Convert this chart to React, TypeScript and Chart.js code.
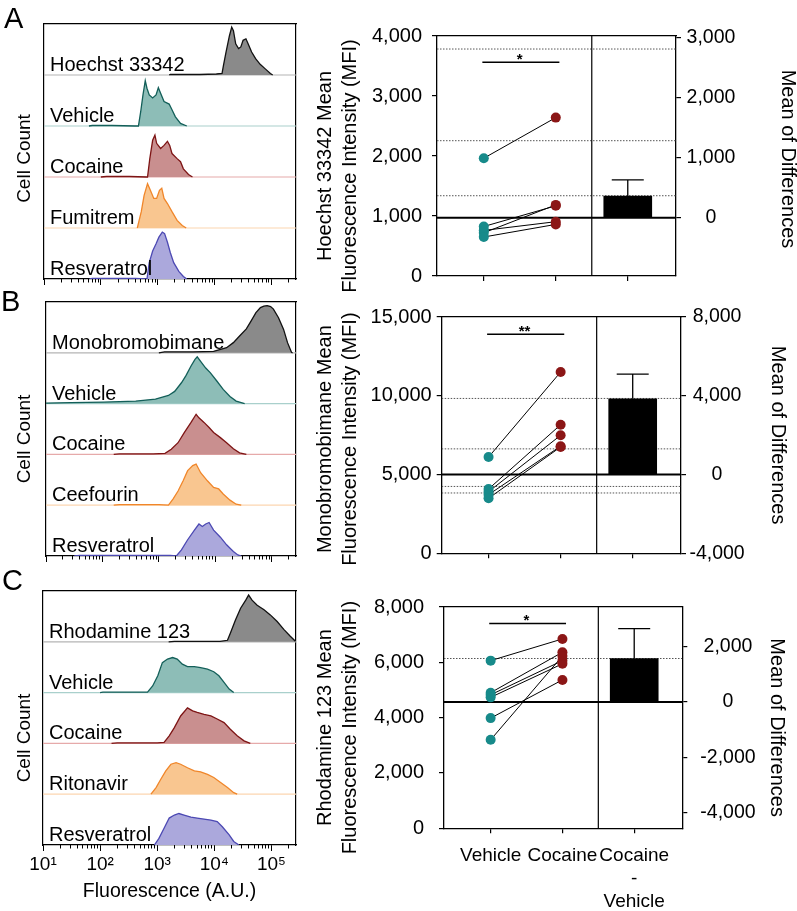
import React, { useEffect, useRef } from 'react';
import { Chart, registerables } from 'chart.js';

Chart.register(...registerables);

const FONT = '"Liberation Sans", Arial, Helvetica, sans-serif';
Chart.defaults.font.family = FONT;
Chart.defaults.color = '#000';

type Pt = [number, number];

// ---------------- Histogram panels (x = log10 fluorescence, y = normalised count) ----------------
const histXMin = 1.0;
const histXMax = 5.43;
const histDecades = [1, 2, 3, 4, 5];
const minorMultipliers = [2, 3, 4, 5, 6, 7, 8, 9];
const histXTitle = 'Fluorescence (A.U.)';
const histYTitle = 'Cell Count';

const histLabelsA = ['Hoechst 33342', 'Vehicle', 'Cocaine', 'Fumitrem', 'Resveratrol'];
const histLabelsB = ['Monobromobimane', 'Vehicle', 'Cocaine', 'Ceefourin', 'Resveratrol'];
const histLabelsC = ['Rhodamine 123', 'Vehicle', 'Cocaine', 'Ritonavir', 'Resveratrol'];

const histA_Hoechst: Pt[] = [[3.2, 0], [3.22, 0.01], [3.74, 0.01], [4.03, 0.02], [4.13, 0.03], [4.155, 0.19], [4.2, 0.45], [4.26, 0.77], [4.3, 0.94], [4.33, 0.87], [4.37, 0.61], [4.42, 0.52], [4.46, 0.55], [4.5, 0.68], [4.55, 0.71], [4.59, 0.61], [4.65, 0.45], [4.72, 0.32], [4.8, 0.21], [4.89, 0.12], [4.98, 0.03], [5.02, 0]];
const histA_Vehicle: Pt[] = [[1.79, 0], [1.85, 0.01], [2.19, 0.01], [2.6, 0], [2.66, 0], [2.7, 0.28], [2.74, 0.61], [2.78, 0.89], [2.81, 0.74], [2.85, 0.61], [2.91, 0.55], [2.97, 0.61], [3.01, 0.75], [3.05, 0.64], [3.11, 0.48], [3.2, 0.43], [3.25, 0.32], [3.31, 0.18], [3.4, 0.05], [3.51, 0]];
const histA_Cocaine: Pt[] = [[2.0, 0], [2.1, 0.01], [2.5, 0.01], [2.8, 0], [2.82, 0], [2.86, 0.36], [2.91, 0.72], [2.95, 0.82], [2.98, 0.66], [3.05, 0.56], [3.11, 0.62], [3.17, 0.7], [3.21, 0.62], [3.25, 0.46], [3.34, 0.36], [3.4, 0.3], [3.45, 0.16], [3.54, 0.05], [3.61, 0]];
const histA_Fumitrem: Pt[] = [[2.64, 0], [2.71, 0.32], [2.76, 0.64], [2.82, 0.87], [2.87, 0.74], [2.93, 0.58], [2.98, 0.58], [3.03, 0.74], [3.07, 0.78], [3.11, 0.58], [3.17, 0.48], [3.25, 0.32], [3.34, 0.15], [3.43, 0.05], [3.5, 0]];
const histA_Resveratrol: Pt[] = [[1.8, 0], [1.85, 0.01], [2.6, 0.01], [2.81, 0], [2.85, 0.32], [2.91, 0.55], [2.97, 0.69], [3.02, 0.82], [3.08, 0.92], [3.12, 0.89], [3.17, 0.72], [3.22, 0.52], [3.28, 0.32], [3.37, 0.15], [3.45, 0.05], [3.51, 0]];

const histB_Mbb: Pt[] = [[3.0, 0], [3.1, 0.02], [3.6, 0.02], [3.97, 0.03], [4.2, 0.1], [4.32, 0.2], [4.43, 0.33], [4.55, 0.47], [4.63, 0.62], [4.72, 0.79], [4.8, 0.89], [4.86, 0.92], [4.92, 0.93], [4.98, 0.91], [5.03, 0.86], [5.12, 0.69], [5.21, 0.46], [5.28, 0.2], [5.35, 0.01], [5.37, 0]];
const histB_Vehicle: Pt[] = [[1.0, 0.01], [1.44, 0.02], [2.02, 0.03], [2.59, 0.05], [2.94, 0.09], [3.17, 0.16], [3.28, 0.24], [3.4, 0.41], [3.48, 0.55], [3.57, 0.74], [3.64, 0.87], [3.68, 0.92], [3.74, 0.83], [3.83, 0.7], [3.91, 0.61], [4.03, 0.44], [4.14, 0.28], [4.26, 0.14], [4.37, 0.05], [4.52, 0]];
const histB_Cocaine: Pt[] = [[2.2, 0], [2.3, 0.01], [2.9, 0.01], [3.11, 0.02], [3.22, 0.1], [3.34, 0.23], [3.45, 0.43], [3.57, 0.63], [3.66, 0.79], [3.71, 0.72], [3.8, 0.63], [3.89, 0.53], [3.97, 0.43], [4.09, 0.33], [4.2, 0.23], [4.32, 0.11], [4.43, 0.03], [4.55, 0]];
const histB_Ceefourin: Pt[] = [[2.2, 0], [2.3, 0.01], [3.0, 0.01], [3.17, 0], [3.25, 0.12], [3.34, 0.28], [3.43, 0.48], [3.51, 0.68], [3.6, 0.78], [3.66, 0.81], [3.74, 0.64], [3.86, 0.48], [3.97, 0.35], [4.06, 0.32], [4.14, 0.22], [4.26, 0.1], [4.37, 0.02], [4.46, 0]];
const histB_Resveratrol: Pt[] = [[1.5, 0], [1.6, 0.01], [3.2, 0.01], [3.31, 0], [3.4, 0.12], [3.51, 0.32], [3.63, 0.51], [3.71, 0.63], [3.77, 0.58], [3.83, 0.63], [3.89, 0.66], [3.97, 0.51], [4.09, 0.37], [4.2, 0.22], [4.32, 0.09], [4.4, 0.02], [4.46, 0]];

const histC_Rho: Pt[] = [[3.2, 0], [3.3, 0.01], [4.1, 0.01], [4.23, 0.03], [4.28, 0.17], [4.37, 0.43], [4.46, 0.66], [4.55, 0.82], [4.6, 0.92], [4.66, 0.82], [4.75, 0.72], [4.87, 0.63], [4.98, 0.53], [5.1, 0.4], [5.22, 0.24], [5.33, 0.11], [5.42, 0.01]];
const histC_Vehicle: Pt[] = [[2.0, 0], [2.05, 0.01], [2.75, 0.01], [2.83, 0.01], [2.92, 0.13], [3.01, 0.33], [3.09, 0.59], [3.18, 0.66], [3.27, 0.69], [3.35, 0.66], [3.44, 0.56], [3.53, 0.51], [3.65, 0.51], [3.76, 0.49], [3.88, 0.46], [3.99, 0.41], [4.08, 0.33], [4.17, 0.2], [4.26, 0.07], [4.34, 0]];
const histC_Cocaine: Pt[] = [[2.2, 0], [2.3, 0.01], [3.0, 0.01], [3.12, 0.02], [3.21, 0.15], [3.3, 0.31], [3.41, 0.54], [3.53, 0.7], [3.62, 0.64], [3.7, 0.61], [3.82, 0.57], [3.94, 0.54], [4.05, 0.48], [4.17, 0.41], [4.28, 0.28], [4.4, 0.15], [4.52, 0.05], [4.63, 0]];
const histC_Ritonavir: Pt[] = [[2.89, 0], [2.98, 0.13], [3.06, 0.29], [3.15, 0.46], [3.24, 0.59], [3.33, 0.62], [3.41, 0.59], [3.53, 0.52], [3.65, 0.46], [3.76, 0.44], [3.88, 0.39], [3.99, 0.33], [4.11, 0.23], [4.23, 0.13], [4.34, 0.03], [4.4, 0]];
const histC_Resveratrol: Pt[] = [[2.95, 0], [3.03, 0.13], [3.12, 0.33], [3.21, 0.53], [3.3, 0.59], [3.38, 0.62], [3.47, 0.59], [3.59, 0.55], [3.7, 0.53], [3.82, 0.51], [3.94, 0.49], [4.05, 0.46], [4.14, 0.36], [4.26, 0.2], [4.34, 0.07], [4.43, 0]];

const histFills = ['#8a8a8a', '#8dbdb7', '#c98f8f', '#f9c690', '#aba8dc'];
const histStrokes = ['#111111', '#135f59', '#7d1414', '#f0862a', '#4c49b3'];
const histBaseColors = ['#b4b4b4', '#a9d0cc', '#e6aaaa', '#fcd6b0', '#c7c5ea'];

// ---------------- Paired MFI panels ----------------
const groupPositions = [1, 2, 3];
const groupLabels: (string | string[])[] = ['Vehicle', 'Cocaine', ['Cocaine', '-', 'Vehicle']];
const rightTitle = 'Mean of Differences';

const titleA = ['Hoechst 33342 Mean', 'Fluorescence Intensity (MFI)'];
const vehicleA = [1963, 825, 720, 760, 650];
const cocaineA = [2640, 1170, 1185, 905, 860];
const dottedA = [3783, 2255, 1338];
const leftTicksA = [0, 1000, 2000, 3000, 4000];
const rightTicksA = [0, 1000, 2000, 3000];
const meanDiffA = 360;
const errTopA = 630;
const sigA = 3562;

const titleB = ['Monobromobimane Mean', 'Fluorescence Intensity (MFI)'];
const vehicleB = [6108, 4080, 3911, 3723, 3490];
const cocaineB = [11507, 8161, 7489, 6800, 6750];
const dottedB = [9830, 6629, 4244, 3829];
const leftTicksB = [0, 5000, 10000, 15000];
const rightTicksB = [-4000, 0, 4000, 8000];
const meanDiffB = 3845;
const errTopB = 5100;
const sigB = 13911;

const titleC = ['Rhodamine 123 Mean', 'Fluorescence Intensity (MFI)'];
const vehicleC = [6061, 4902, 4825, 4734, 3983, 3199];
const cocaineC = [6845, 6364, 6061, 5946, 5364, 6229];
const dottedC = [6138];
const leftTicksC = [0, 2000, 4000, 6000, 8000];
const rightTicksC = [-4000, -2000, 0, 2000];
const meanDiffC = 1570;
const errTopC = 2650;
const sigC = 7407;

const VEH_COLOR = '#178a8a';
const COC_COLOR = '#8b1616';

const SUP: Record<number, string> = { 1: '\u00B9', 2: '\u00B2', 3: '\u00B3', 4: '\u2074', 5: '\u2075' };

const fixW = (w: number) => (s: any) => { s.width = w; };
const fixH = (h: number) => (s: any) => { s.height = h; };

// Draws a rotated axis title centred at canvas x, shifted dy px from the plot's vertical middle.
function drawRotatedTitle(chart: any, lines: string[], x: number, dy: number, rot: number, size: number, lineH: number) {
  const { ctx, chartArea } = chart;
  const cy = (chartArea.top + chartArea.bottom) / 2 + dy;
  ctx.save();
  ctx.translate(x, cy);
  ctx.rotate(rot);
  ctx.font = `${size}px ${FONT}`;
  ctx.fillStyle = '#000';
  ctx.textAlign = 'center';
  ctx.textBaseline = 'middle';
  lines.forEach((t, i) => ctx.fillText(t, 0, i * lineH));
  ctx.restore();
}

interface HistSpec {
  top: number; height: number; boxLeft: number; boxTop: number; boxBottom: number;
  curves: Pt[][]; labels: string[]; showTickLabels: boolean; titleDy: number;
}

const histSpecs: HistSpec[] = [
  { top: 0, height: 290, boxLeft: 44, boxTop: 24, boxBottom: 279, curves: [histA_Hoechst, histA_Vehicle, histA_Cocaine, histA_Fumitrem, histA_Resveratrol], labels: histLabelsA, showTickLabels: false, titleDy: 7 },
  { top: 290, height: 280, boxLeft: 46, boxTop: 302, boxBottom: 556, curves: [histB_Mbb, histB_Vehicle, histB_Cocaine, histB_Ceefourin, histB_Resveratrol], labels: histLabelsB, showTickLabels: false, titleDy: 10 },
  { top: 580, height: 331, boxLeft: 43, boxTop: 591, boxBottom: 845, curves: [histC_Rho, histC_Vehicle, histC_Cocaine, histC_Ritonavir, histC_Resveratrol], labels: histLabelsC, showTickLabels: true, titleDy: 20 },
];

function buildHist(s: HistSpec): any {
  const n = s.curves.length;
  const datasets: any[] = [];
  s.curves.forEach((curve, i) => {
    const base = n - 1 - i;
    datasets.push({
      data: curve.map(([x, y]) => ({ x, y: base + y })),
      xAxisID: 'x', yAxisID: 'y',
      borderColor: histStrokes[i], backgroundColor: histFills[i], borderWidth: 1.3,
      fill: { value: base }, pointRadius: 0, tension: 0, order: 1,
    });
    if (base > 0) {
      datasets.push({
        data: [{ x: histXMin, y: base }, { x: histXMax, y: base }],
        xAxisID: 'x', yAxisID: 'y',
        borderColor: histBaseColors[i], borderWidth: 1.2, pointRadius: 0, fill: false, order: 2,
      });
    }
  });
  const labelPlugin = {
    id: 'rowLabels',
    afterDatasetsDraw(chart: any) {
      const { ctx, chartArea, scales } = chart;
      ctx.save();
      ctx.font = `20px ${FONT}`;
      ctx.fillStyle = '#000';
      ctx.textAlign = 'left';
      ctx.textBaseline = 'alphabetic';
      s.labels.forEach((t, i) => {
        const base = n - 1 - i;
        ctx.fillText(t, chartArea.left + 6, scales.y.getPixelForValue(base) - 4);
      });
      ctx.restore();
      drawRotatedTitle(chart, [histYTitle], 25, s.titleDy, -Math.PI / 2, 19, 23);
    },
  };
  const frame = { display: true, color: '#000', width: 1.2 };
  return {
    type: 'line',
    data: { datasets },
    options: {
      responsive: false, animation: false, events: [],
      layout: { padding: { top: s.boxTop - s.top, right: 4, left: 0, bottom: 0 } },
      plugins: { legend: { display: false }, tooltip: { enabled: false } },
      scales: {
        x: {
          type: 'linear', position: 'bottom', min: histXMin, max: histXMax, weight: 1,
          afterBuildTicks: (sc: any) => { sc.ticks = histDecades.map((value) => ({ value })); },
          afterFit: fixH(s.height - (s.boxBottom - s.top)),
          grid: { display: true, drawOnChartArea: false, drawTicks: true, tickLength: 6, color: '#000', lineWidth: 1 },
          border: frame,
          ticks: {
            display: s.showTickLabels, padding: 2.6, maxRotation: 0, autoSkip: false,
            font: { size: 19 }, color: '#000',
            callback: (v: any) => '10' + (SUP[Math.round(v)] || ''),
          },
          title: { display: s.showTickLabels, text: histXTitle, font: { size: 19.5 }, color: '#000', padding: { bottom: 7.3, top: 0 } },
        },
        xm: {
          type: 'linear', position: 'bottom', min: histXMin, max: histXMax, weight: 0,
          afterBuildTicks: (sc: any) => {
            const t: any[] = [];
            histDecades.forEach((d) => minorMultipliers.forEach((k) => {
              const v = d + Math.log10(k);
              if (v <= histXMax) t.push({ value: v });
            }));
            sc.ticks = t;
          },
          afterFit: fixH(0),
          grid: { display: true, drawOnChartArea: false, drawTicks: true, tickLength: 3.5, color: '#000', lineWidth: 1 },
          border: { display: false },
          ticks: { display: false },
        },
        xt: {
          type: 'linear', position: 'top', min: 0, max: 1, afterFit: fixH(0),
          grid: { display: false }, ticks: { display: false }, border: frame,
        },
        y: {
          type: 'linear', position: 'left', min: 0, max: n, afterFit: fixW(s.boxLeft),
          grid: { display: false }, ticks: { display: false }, border: frame,
        },
        yr: {
          type: 'linear', position: 'right', min: 0, max: 1, afterFit: fixW(0),
          grid: { display: false }, ticks: { display: false }, border: frame,
        },
      },
    },
    plugins: [labelPlugin],
  };
}

interface PairSpec {
  top: number; height: number; plotLeft: number; plotRight: number; plotTop: number; plotBottom: number;
  leftMin: number; leftMax: number; rightMin: number; rightMax: number;
  leftTicks: number[]; rightTicks: number[];
  vehicle: number[]; cocaine: number[]; dotted: number[];
  meanDiff: number; errTop: number; sig: number; stars: string; title: string[];
  leftPad: number; rightPad: number; rightTitleX: number; leftTitleDy: number; rightTitleDy: number; showX: boolean;
}

const pairSpecs: PairSpec[] = [
  { top: 0, height: 300, plotLeft: 437, plotRight: 676, plotTop: 36, plotBottom: 276, leftMin: 0, leftMax: 4000, rightMin: -972, rightMax: 3028, leftTicks: leftTicksA, rightTicks: rightTicksA, vehicle: vehicleA, cocaine: cocaineA, dotted: dottedA, meanDiff: meanDiffA, errTop: errTopA, sig: sigA, stars: '*', title: titleA, leftPad: 10, rightPad: 5.6, rightTitleX: 488, leftTitleDy: 10, rightTitleDy: 3, showX: false },
  { top: 300, height: 280, plotLeft: 441.7, plotRight: 681, plotTop: 314.3, plotBottom: 553.3, leftMin: 0, leftMax: 15000, rightMin: -4000, rightMax: 8000, leftTicks: leftTicksB, rightTicks: rightTicksB, vehicle: vehicleB, cocaine: cocaineB, dotted: dottedB, meanDiff: meanDiffB, errTop: errTopB, sig: sigB, stars: '**', title: titleB, leftPad: 5, rightPad: 3.4, rightTitleX: 477.5, leftTitleDy: 4, rightTitleDy: 0, showX: false },
  { top: 580, height: 331, plotLeft: 444, plotRight: 682.3, plotTop: 591, plotBottom: 828.3, leftMin: 0, leftMax: 8000, rightMin: -4566, rightMax: 3434, leftTicks: leftTicksC, rightTicks: rightTicksC, vehicle: vehicleC, cocaine: cocaineC, dotted: dottedC, meanDiff: meanDiffC, errTop: errTopC, sig: sigC, stars: '*', title: titleC, leftPad: 15, rightPad: 13, rightTitleX: 477, leftTitleDy: 10, rightTitleDy: 10, showX: true },
];

const PAIR_LEFT = 300;
const PAIR_WIDTH = 497;
const X_MIN = 0.35;
const X_MAX = 3.67;

function buildPair(s: PairSpec): any {
  const [vx, cx, dx] = groupPositions;
  const datasets: any[] = [];
  s.dotted.forEach((v) => datasets.push({
    data: [{ x: X_MIN, y: v }, { x: X_MAX, y: v }], xAxisID: 'x', yAxisID: 'y',
    borderColor: '#555', borderWidth: 1, borderDash: [1.5, 1.5], pointRadius: 0, order: 30,
  }));
  datasets.push({
    type: 'bar', data: [{ x: dx, y: s.meanDiff }], xAxisID: 'x', yAxisID: 'yr',
    backgroundColor: '#000', borderWidth: 0, barThickness: 48, order: 10,
  });
  datasets.push({
    data: [{ x: X_MIN, y: 0 }, { x: X_MAX, y: 0 }], xAxisID: 'x', yAxisID: 'yr',
    borderColor: '#000', borderWidth: 2, pointRadius: 0, order: 4,
  });
  datasets.push({
    data: [{ x: (cx + dx) / 2, y: s.leftMin }, { x: (cx + dx) / 2, y: s.leftMax }], xAxisID: 'x', yAxisID: 'y',
    borderColor: '#000', borderWidth: 1.2, pointRadius: 0, order: 4,
  });
  s.vehicle.forEach((v, i) => datasets.push({
    data: [{ x: vx, y: v }, { x: cx, y: s.cocaine[i] }], xAxisID: 'x', yAxisID: 'y',
    borderColor: '#000', borderWidth: 1, pointRadius: 0, order: 6,
  }));
  datasets.push({
    data: [{ x: vx - 0.02, y: s.sig }, { x: cx + 0.05, y: s.sig }], xAxisID: 'x', yAxisID: 'y',
    borderColor: '#000', borderWidth: 1.5, pointRadius: 0, order: 6,
  });
  datasets.push({
    data: s.vehicle.map((v) => ({ x: vx, y: v })), xAxisID: 'x', yAxisID: 'y', showLine: false,
    pointRadius: 5, pointBackgroundColor: VEH_COLOR, pointBorderColor: VEH_COLOR, pointBorderWidth: 0, order: 0,
  });
  datasets.push({
    data: s.cocaine.map((v) => ({ x: cx, y: v })), xAxisID: 'x', yAxisID: 'y', showLine: false,
    pointRadius: 5, pointBackgroundColor: COC_COLOR, pointBorderColor: COC_COLOR, pointBorderWidth: 0, order: 0,
  });

  const extras = {
    id: 'pairExtras',
    afterDatasetsDraw(chart: any) {
      const { ctx, scales } = chart;
      const bx = scales.x.getPixelForValue(dx);
      const y0 = scales.yr.getPixelForValue(s.meanDiff);
      const y1 = scales.yr.getPixelForValue(s.errTop);
      ctx.save();
      ctx.strokeStyle = '#000';
      ctx.lineWidth = 1.3;
      ctx.beginPath();
      ctx.moveTo(bx, y0); ctx.lineTo(bx, y1);
      ctx.moveTo(bx - 16, y1); ctx.lineTo(bx + 16, y1);
      ctx.stroke();
      ctx.fillStyle = '#000';
      ctx.font = `bold 15px ${FONT}`;
      ctx.textAlign = 'center';
      ctx.textBaseline = 'alphabetic';
      const mx = (scales.x.getPixelForValue(vx) + scales.x.getPixelForValue(cx)) / 2;
      ctx.fillText(s.stars, mx, scales.y.getPixelForValue(s.sig) + 2);
      ctx.restore();
      drawRotatedTitle(chart, s.title, 25, s.leftTitleDy, -Math.PI / 2, 20, 25);
      drawRotatedTitle(chart, [rightTitle], s.rightTitleX, s.rightTitleDy, Math.PI / 2, 20, 24);
    },
  };
  const fmt = (v: any) => Number(v).toLocaleString('en-US');
  const frame = { display: true, color: '#000', width: 1.3 };
  return {
    type: 'line',
    data: { datasets },
    options: {
      responsive: false, animation: false, events: [],
      layout: { padding: { top: s.plotTop - s.top, left: 0, right: 0, bottom: 0 } },
      plugins: { legend: { display: false }, tooltip: { enabled: false } },
      scales: {
        x: {
          type: 'linear', position: 'bottom', min: X_MIN, max: X_MAX, offset: false,
          afterBuildTicks: (sc: any) => { sc.ticks = groupPositions.map((value) => ({ value })); },
          afterFit: fixH(s.top + s.height - s.plotBottom),
          grid: { display: true, offset: false, drawOnChartArea: false, drawTicks: true, tickLength: 5, color: '#000', lineWidth: 1.2 },
          border: frame,
          ticks: {
            display: s.showX, padding: 11, maxRotation: 0, minRotation: 0, autoSkip: false,
            font: { size: 19, lineHeight: 1.2 }, color: '#000',
            callback: (v: any) => groupLabels[groupPositions.indexOf(Math.round(v))],
          },
        },
        xt: {
          type: 'linear', position: 'top', min: 0, max: 1, afterFit: fixH(0),
          grid: { display: false }, ticks: { display: false }, border: frame,
        },
        y: {
          type: 'linear', position: 'left', min: s.leftMin, max: s.leftMax,
          afterBuildTicks: (sc: any) => { sc.ticks = s.leftTicks.map((value) => ({ value })); },
          afterFit: fixW(s.plotLeft - PAIR_LEFT),
          grid: { display: true, drawOnChartArea: false, drawTicks: true, tickLength: 5, color: '#000', lineWidth: 1.2 },
          border: frame,
          ticks: { padding: s.leftPad, font: { size: 20 }, color: '#000', callback: fmt },
        },
        yr: {
          type: 'linear', position: 'right', min: s.rightMin, max: s.rightMax,
          afterBuildTicks: (sc: any) => { sc.ticks = s.rightTicks.map((value) => ({ value })); },
          afterFit: fixW(PAIR_LEFT + PAIR_WIDTH - s.plotRight),
          grid: { display: true, drawOnChartArea: false, drawTicks: true, tickLength: 5, color: '#000', lineWidth: 1.2 },
          border: frame,
          ticks: { padding: s.rightPad, crossAlign: 'center', font: { size: 19.5 }, color: '#000', callback: fmt },
        },
      },
    },
    plugins: [extras],
  };
}

function ChartCanvas({ left, top, width, height, build }: { left: number; top: number; width: number; height: number; build: () => any }) {
  const ref = useRef<HTMLCanvasElement>(null);
  useEffect(() => {
    if (!ref.current) return;
    const chart = new Chart(ref.current, build());
    return () => chart.destroy();
  }, []);
  return (
    <canvas
      ref={ref}
      width={width}
      height={height}
      style={{ position: 'absolute', left, top, width, height, display: 'block' }}
    />
  );
}

const panelLetters = [
  { t: 'A', left: 4, top: 4 },
  { t: 'B', left: 1, top: 287 },
  { t: 'C', left: 2, top: 566 },
];

export default function App() {
  return (
    <div style={{ position: 'absolute', left: 0, top: 0, width: 797, height: 911, background: '#fff', overflow: 'hidden' }}>
      {histSpecs.map((s, i) => (
        <ChartCanvas key={'h' + i} left={0} top={s.top} width={300} height={s.height} build={() => buildHist(s)} />
      ))}
      {pairSpecs.map((s, i) => (
        <ChartCanvas key={'p' + i} left={PAIR_LEFT} top={s.top} width={PAIR_WIDTH} height={s.height} build={() => buildPair(s)} />
      ))}
      {panelLetters.map((l) => (
        <div key={l.t} style={{ position: 'absolute', left: l.left, top: l.top, fontFamily: FONT, fontSize: 29, lineHeight: '29px', color: '#000' }}>{l.t}</div>
      ))}
    </div>
  );
}
